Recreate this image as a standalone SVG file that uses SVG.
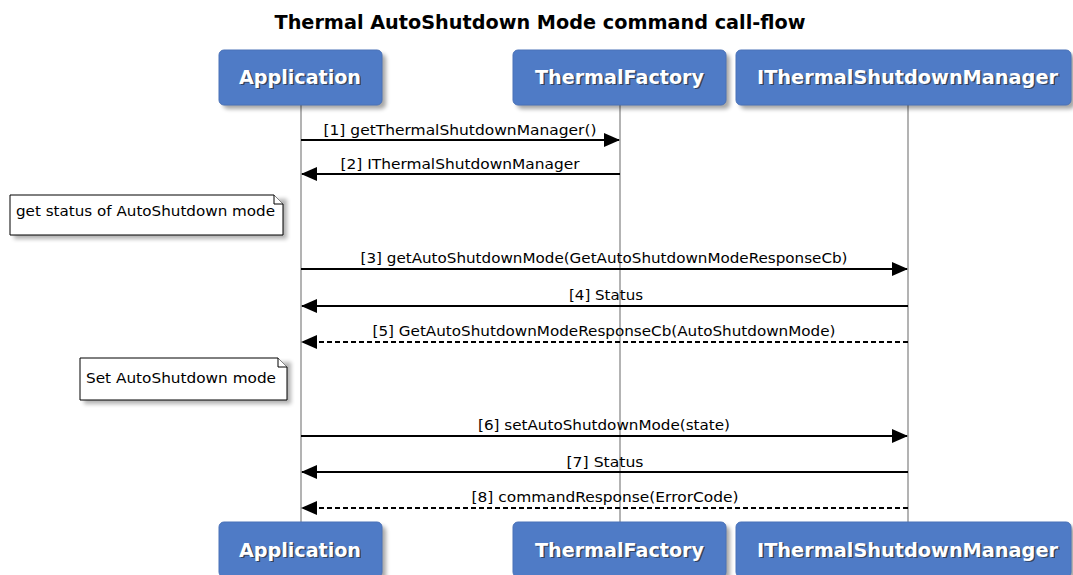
<svg xmlns="http://www.w3.org/2000/svg" width="1073" height="575" viewBox="0 0 1073 575">
<defs>
<style>
.title{font-family:"DejaVu Sans",sans-serif;font-weight:bold;font-size:19px;fill:#000}
.box{fill:#4f7bc6;stroke:#4a72b8;stroke-width:1}
.shadow{fill:#000;opacity:0.35}
.bt{font-family:"DejaVu Sans",sans-serif;font-weight:bold;font-size:20px;fill:#fff}
.bts{font-family:"DejaVu Sans",sans-serif;font-weight:bold;font-size:20px;fill:#222;opacity:0.6}
.life{stroke:#808080;stroke-width:1.2}
.msg{stroke:#000;stroke-width:2;fill:none}
.dash{stroke-dasharray:5,3}
.lbl{font-family:"DejaVu Sans",sans-serif;font-size:14.5px;fill:#000}
.note{fill:#fff;stroke:#000;stroke-width:1}
.nt{font-family:"DejaVu Sans",sans-serif;font-size:14.5px;fill:#000}
</style>
<filter id="blur" x="-10%" y="-10%" width="130%" height="140%"><feGaussianBlur stdDeviation="2"/></filter>
<marker id="ah" markerWidth="16" markerHeight="14" refX="15" refY="7" orient="auto" markerUnits="userSpaceOnUse"><path d="M0,0 L16,7 L0,14 Z" fill="#000"/></marker>
</defs>
<rect width="1073" height="575" fill="#fff"/>
<text class="title" x="540" y="29" text-anchor="middle" textLength="531" lengthAdjust="spacingAndGlyphs">Thermal AutoShutdown Mode command call-flow</text>

<g id="lifelines">
<line class="life" x1="301" y1="105" x2="301" y2="522"/>
<line class="life" x1="620" y1="105" x2="620" y2="522"/>
<line class="life" x1="908" y1="105" x2="908" y2="522"/>
</g>

<g id="node-app-top">
<rect class="shadow" x="223" y="54" width="163" height="55" rx="5" filter="url(#blur)"/>
<rect class="box" x="219" y="50" width="163" height="55" rx="5"/>
<text class="bts" x="301.5" y="85" text-anchor="middle" textLength="122" lengthAdjust="spacingAndGlyphs">Application</text>
<text class="bt" x="300" y="83.5" text-anchor="middle" textLength="122" lengthAdjust="spacingAndGlyphs">Application</text>
</g>
<g id="node-factory-top">
<rect class="shadow" x="517" y="54" width="213" height="55" rx="5" filter="url(#blur)"/>
<rect class="box" x="513" y="50" width="213" height="55" rx="5"/>
<text class="bts" x="621" y="85" text-anchor="middle" textLength="169" lengthAdjust="spacingAndGlyphs">ThermalFactory</text>
<text class="bt" x="619.5" y="83.5" text-anchor="middle" textLength="169" lengthAdjust="spacingAndGlyphs">ThermalFactory</text>
</g>
<g id="node-mgr-top">
<rect class="shadow" x="740" y="54" width="335" height="55" rx="5" filter="url(#blur)"/>
<rect class="box" x="736" y="50" width="335" height="55" rx="5"/>
<text class="bts" x="909" y="85" text-anchor="middle" textLength="301" lengthAdjust="spacingAndGlyphs">IThermalShutdownManager</text>
<text class="bt" x="907.5" y="83.5" text-anchor="middle" textLength="301" lengthAdjust="spacingAndGlyphs">IThermalShutdownManager</text>
</g>

<g id="node-app-bottom">
<rect class="shadow" x="223" y="526" width="163" height="55" rx="5" filter="url(#blur)"/>
<rect class="box" x="219" y="522" width="163" height="55" rx="5"/>
<text class="bts" x="301.5" y="558" text-anchor="middle" textLength="122" lengthAdjust="spacingAndGlyphs">Application</text>
<text class="bt" x="300" y="556.5" text-anchor="middle" textLength="122" lengthAdjust="spacingAndGlyphs">Application</text>
</g>
<g id="node-factory-bottom">
<rect class="shadow" x="517" y="526" width="213" height="55" rx="5" filter="url(#blur)"/>
<rect class="box" x="513" y="522" width="213" height="55" rx="5"/>
<text class="bts" x="621" y="558" text-anchor="middle" textLength="169" lengthAdjust="spacingAndGlyphs">ThermalFactory</text>
<text class="bt" x="619.5" y="556.5" text-anchor="middle" textLength="169" lengthAdjust="spacingAndGlyphs">ThermalFactory</text>
</g>
<g id="node-mgr-bottom">
<rect class="shadow" x="740" y="526" width="335" height="55" rx="5" filter="url(#blur)"/>
<rect class="box" x="736" y="522" width="335" height="55" rx="5"/>
<text class="bts" x="909" y="558" text-anchor="middle" textLength="301" lengthAdjust="spacingAndGlyphs">IThermalShutdownManager</text>
<text class="bt" x="907.5" y="556.5" text-anchor="middle" textLength="301" lengthAdjust="spacingAndGlyphs">IThermalShutdownManager</text>
</g>

<g id="note-1">
<path d="M14,199 H287 V239 H14 Z" fill="#000" opacity="0.3" filter="url(#blur)"/>
<path class="note" d="M10,195 H274 L283,204 V235 H10 Z"/>
<path class="note" d="M274,195 V204 H283" fill="none"/>
<text class="nt" x="16" y="216" textLength="259" lengthAdjust="spacingAndGlyphs">get status of AutoShutdown mode</text>
</g>
<g id="note-2">
<path d="M84,362 H291 V404 H84 Z" fill="#000" opacity="0.3" filter="url(#blur)"/>
<path class="note" d="M80,358 H278 L287,367 V400 H80 Z"/>
<path class="note" d="M278,358 V367 H287" fill="none"/>
<text class="nt" x="86" y="383" textLength="190" lengthAdjust="spacingAndGlyphs">Set AutoShutdown mode</text>
</g>

<g id="connectors">
<line class="msg" x1="301" y1="140" x2="619" y2="140" marker-end="url(#ah)"/>
<text class="lbl" x="460" y="135" text-anchor="middle" textLength="273" lengthAdjust="spacingAndGlyphs">[1] getThermalShutdownManager()</text>
<line class="msg" x1="620" y1="174" x2="302" y2="174" marker-end="url(#ah)"/>
<text class="lbl" x="460" y="169" text-anchor="middle" textLength="239" lengthAdjust="spacingAndGlyphs">[2] IThermalShutdownManager</text>
<line class="msg" x1="301" y1="269" x2="907" y2="269" marker-end="url(#ah)"/>
<text class="lbl" x="604" y="263" text-anchor="middle" textLength="487" lengthAdjust="spacingAndGlyphs">[3] getAutoShutdownMode(GetAutoShutdownModeResponseCb)</text>
<line class="msg" x1="908" y1="306" x2="302" y2="306" marker-end="url(#ah)"/>
<text class="lbl" x="606" y="300" text-anchor="middle" textLength="74" lengthAdjust="spacingAndGlyphs">[4] Status</text>
<line class="msg dash" x1="908" y1="342" x2="302" y2="342" marker-end="url(#ah)"/>
<text class="lbl" x="604" y="336" text-anchor="middle" textLength="463" lengthAdjust="spacingAndGlyphs">[5] GetAutoShutdownModeResponseCb(AutoShutdownMode)</text>
<line class="msg" x1="301" y1="436" x2="907" y2="436" marker-end="url(#ah)"/>
<text class="lbl" x="604" y="430" text-anchor="middle" textLength="252" lengthAdjust="spacingAndGlyphs">[6] setAutoShutdownMode(state)</text>
<line class="msg" x1="908" y1="472" x2="302" y2="472" marker-end="url(#ah)"/>
<text class="lbl" x="605" y="467" text-anchor="middle" textLength="77" lengthAdjust="spacingAndGlyphs">[7] Status</text>
<line class="msg dash" x1="908" y1="508" x2="302" y2="508" marker-end="url(#ah)"/>
<text class="lbl" x="605" y="502" text-anchor="middle" textLength="267" lengthAdjust="spacingAndGlyphs">[8] commandResponse(ErrorCode)</text>
</g>
</svg>
